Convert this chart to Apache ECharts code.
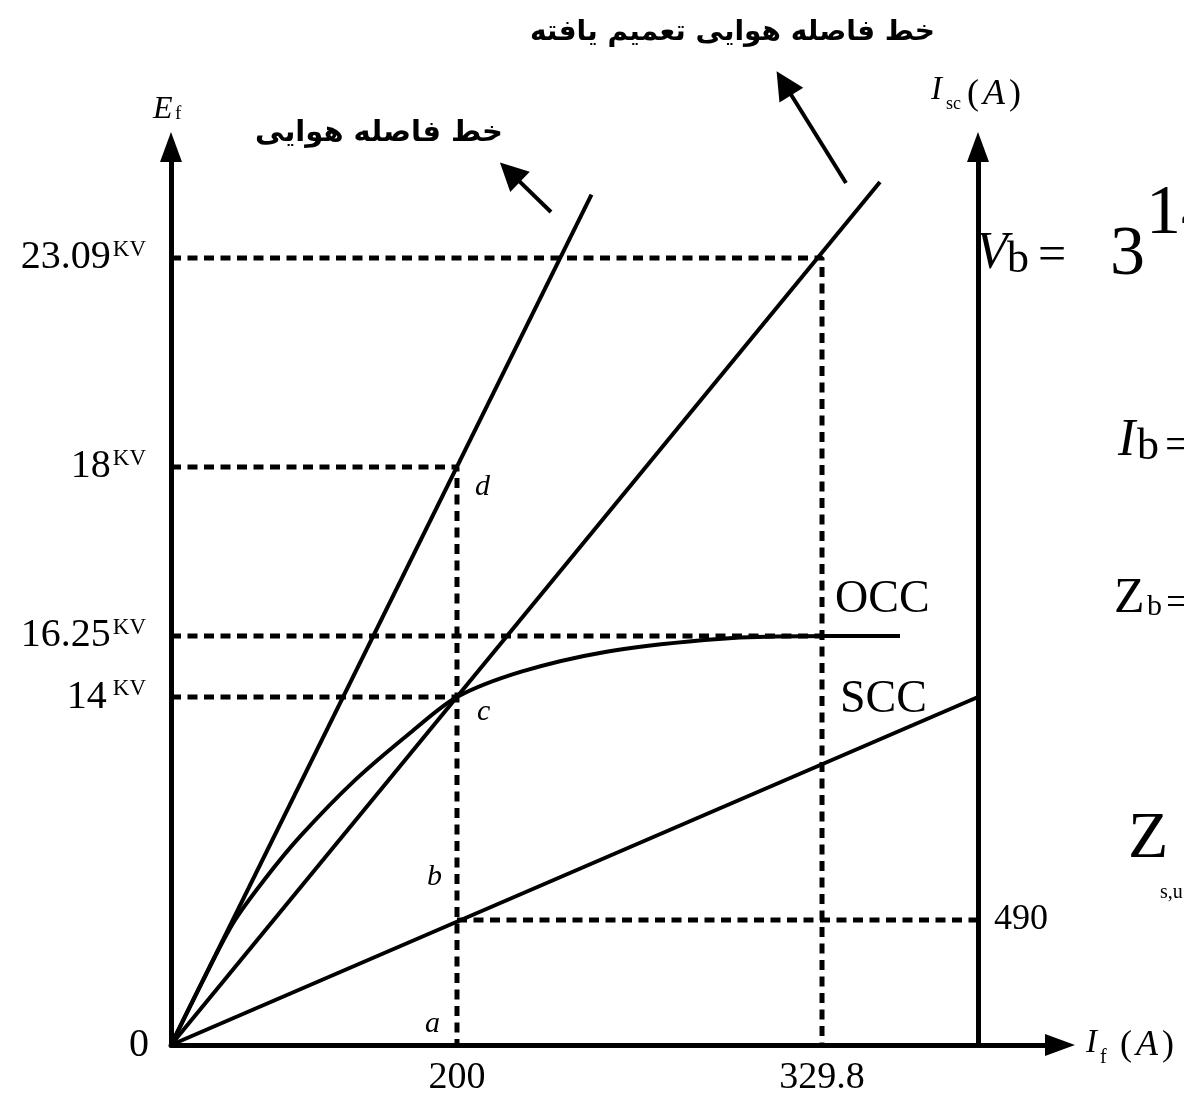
<!DOCTYPE html>
<html>
<head>
<meta charset="utf-8">
<script src="https://cdn.jsdelivr.net/npm/echarts@6/dist/echarts.min.js"></script>
<style>
html,body{margin:0;padding:0;background:#fff;}
#chart{width:1184px;height:1097px;}
</style>
</head>
<body>
<div id="chart"></div>
<script>
// ---- Schematic diagram: axes are in drawing units (0..100 along each axis) ----
// Tick labels and where they sit along the axes
const efTickLabels = ['0', '14', '16.25', '18', '23.09'];     // E_f (kV)
const efTickPos    = [0, 38.75, 45.55, 64.37, 87.64];
const ifTickLabels = ['200', '329.8'];                         // I_f (A)
const ifTickPos    = [32.17, 73.23];
const iscTickLabels = ['490'];                                 // I_sc (A)
const iscTickPos    = [13.92];
const iscAxisPos = 90.78;                                      // where the I_sc axis stands on the I_f axis

// Curves
const airGapX = [0, 47.3];
const airGapY = [0, 94.7];
const genAirGapX = [0, 79.75];
const genAirGapY = [0, 96.1];
const sccX = [0, 90.78];
const sccY = [0, 38.75];
const occX = [0, 3.5, 7.0, 10.5, 14.5, 20.7, 27.2, 32.17, 39.5, 49.0, 60.0, 68.0, 82.0];
const occY = [0, 7.0, 13.6, 18.4, 23.2, 29.5, 35.0, 38.75, 41.6, 43.8, 45.1, 45.5, 45.55];

// Annotation arrows [from, to]
const arrowAirGap = [[42.74, 92.76], [38.13, 97.2]];
const arrowGenAirGap = [[75.93, 95.99], [68.95, 107.1]];

const zip = (xs, ys) => xs.map((x, i) => [x, ys[i]]);
const findIdx = (arr, v) => arr.findIndex(p => Math.abs(p - v) < 1e-6);

const SERIF = '"Liberation Serif", "Times New Roman", serif';
const black = '#000';

const dashStyle = { color: black, width: 5, type: [10, 6.5], cap: 'butt' };
const solidStyle = { color: black, width: 4 };

function guide(data) {
  return { type: 'line', data, symbol: 'none', silent: true, lineStyle: dashStyle, z: 2 };
}
function curve(data, extra) {
  return Object.assign({ type: 'line', data, symbol: 'none', silent: true, lineStyle: solidStyle, z: 3 }, extra || {});
}

const E = efTickPos, F = ifTickPos;
const series = [
  guide([[0, E[4]], [F[1], E[4]], [F[1], 0]]),
  guide([[0, E[3]], [F[0], E[3]], [F[0], 0]]),
  guide([[0, E[2]], [F[1], E[2]]]),
  guide([[0, E[1]], [F[0], E[1]]]),
  guide([[F[0], iscTickPos[0]], [iscAxisPos, iscTickPos[0]]]),
  curve(zip(airGapX, airGapY)),
  curve(zip(genAirGapX, genAirGapY)),
  curve(zip(sccX, sccY)),
  curve(zip(occX, occY), { smooth: 0.3 }),
  {
    type: 'lines', coordinateSystem: 'cartesian2d', clip: false, silent: true, z: 4,
    symbol: ['none', 'triangle'], symbolSize: [20, 28],
    lineStyle: { color: black, width: 4, opacity: 1, curveness: 0 },
    data: [{ coords: arrowAirGap }, { coords: arrowGenAirGap }]
  }
];

function t(x, y, text, font, align, extra) {
  return {
    type: 'text', x, y, silent: true, z: 10,
    style: Object.assign({ text, font, fill: black, align: align || 'left', verticalAlign: 'middle' }, extra || {})
  };
}
function parenA(size) {
  return {
    p: { font: size + 'px ' + SERIF, fill: black },
    a: { font: 'italic ' + size + 'px ' + SERIF, fill: black, padding: [0, 4, 0, 4] }
  };
}

const graphics = [
  // axis titles
  t(153, 110, 'E', 'italic 32px ' + SERIF),
  t(175, 114, 'f', '19px ' + SERIF),
  t(931, 90, 'I', 'italic 33px ' + SERIF),
  t(946, 104, 'sc', '18px ' + SERIF),
  t(967, 95, '{p|(}{a|A}{p|)}', '36px ' + SERIF, 'left', { rich: parenA(36) }),
  t(1086, 1043, 'I', 'italic 33px ' + SERIF),
  t(1100, 1058, 'f', '20px ' + SERIF),
  t(1120, 1046, '{p|(}{a|A}{p|)}', '36px ' + SERIF, 'left', { rich: parenA(36) }),
  // persian annotations
  t(935, 33, 'خط فاصله هوایی تعمیم یافته', 'bold 28px "DejaVu Sans"', 'right'),
  t(503, 133, 'خط فاصله هوایی', 'bold 29px "DejaVu Sans"', 'right'),
  // point letters
  t(475, 487, 'd', 'italic 30px ' + SERIF),
  t(477, 712, 'c', 'italic 30px ' + SERIF),
  t(427, 877, 'b', 'italic 30px ' + SERIF),
  t(425, 1024, 'a', 'italic 30px ' + SERIF),
  // curve names
  t(835, 600, 'OCC', '46px ' + SERIF),
  t(840, 700, 'SCC', '46px ' + SERIF),
  // partial formulas at right edge
  t(976, 254, 'V', 'italic 52px ' + SERIF),
  t(1007, 260, 'b', '44px ' + SERIF),
  t(1038, 257, '=', '50px ' + SERIF),
  t(1110, 256, '3', '70px ' + SERIF),
  t(1146, 215, '14', '70px ' + SERIF),
  t(1118, 441, 'I', 'italic 52px ' + SERIF),
  t(1137, 447, 'b', '44px ' + SERIF),
  t(1165, 446, '=', '44px ' + SERIF),
  t(1114, 599, 'Z', '50px ' + SERIF),
  t(1147, 607, 'b', '30px ' + SERIF),
  t(1166, 604, '=', '40px ' + SERIF),
  t(1128, 840, 'Z', '66px ' + SERIF),
  t(1160, 893, 's,u', '20px ' + SERIF)
];

const axisLineCommon = {
  show: true, onZero: false,
  lineStyle: { color: black, width: 5 },
  symbol: ['none', 'triangle'], symbolSize: [22, 30]
};

const option = {
  backgroundColor: '#fff',
  animation: false,
  grid: { left: 171, right: 124, top: 147, bottom: 52 },
  xAxis: {
    type: 'value', min: 0, max: 100,
    axisLine: axisLineCommon,
    axisTick: { show: false },
    splitLine: { show: false },
    axisLabel: {
      customValues: ifTickPos,
      formatter: v => ifTickLabels[findIdx(ifTickPos, v)] || '',
      fontFamily: 'Liberation Serif', fontSize: 38, color: black, margin: 14
    }
  },
  yAxis: [
    {
      type: 'value', min: 0, max: 100,
      axisLine: axisLineCommon,
      axisTick: { show: false },
      splitLine: { show: false },
      axisLabel: {
        customValues: efTickPos,
        formatter: v => {
          const i = findIdx(efTickPos, v);
          if (i < 0) return '';
          const lab = efTickLabels[i];
          if (lab === '0') return '{n|0}';
          return '{n|' + lab + '}' + (lab === '14' ? '{g| }' : '') + '{k|KV}';
        },
        margin: 22,
        rich: {
          n: { fontFamily: 'Liberation Serif', fontSize: 40, color: black },
          g: { fontFamily: 'Liberation Serif', fontSize: 16, color: black },
          k: { fontFamily: 'Liberation Serif', fontSize: 23, color: black, verticalAlign: 'top', padding: [0, 3, 0, 2] }
        }
      }
    },
    {
      type: 'value', min: 0, max: 100, position: 'right', offset: -82,
      axisLine: axisLineCommon,
      axisTick: { show: false },
      splitLine: { show: false },
      axisLabel: {
        customValues: iscTickPos,
        formatter: v => iscTickLabels[findIdx(iscTickPos, v)] || '',
        fontFamily: 'Liberation Serif', fontSize: 36, color: black, margin: 16
      }
    }
  ],
  series,
  graphic: graphics
};

const chart = echarts.init(document.getElementById('chart'), null, { renderer: 'canvas' });
chart.setOption(option);
</script>
</body>
</html>
